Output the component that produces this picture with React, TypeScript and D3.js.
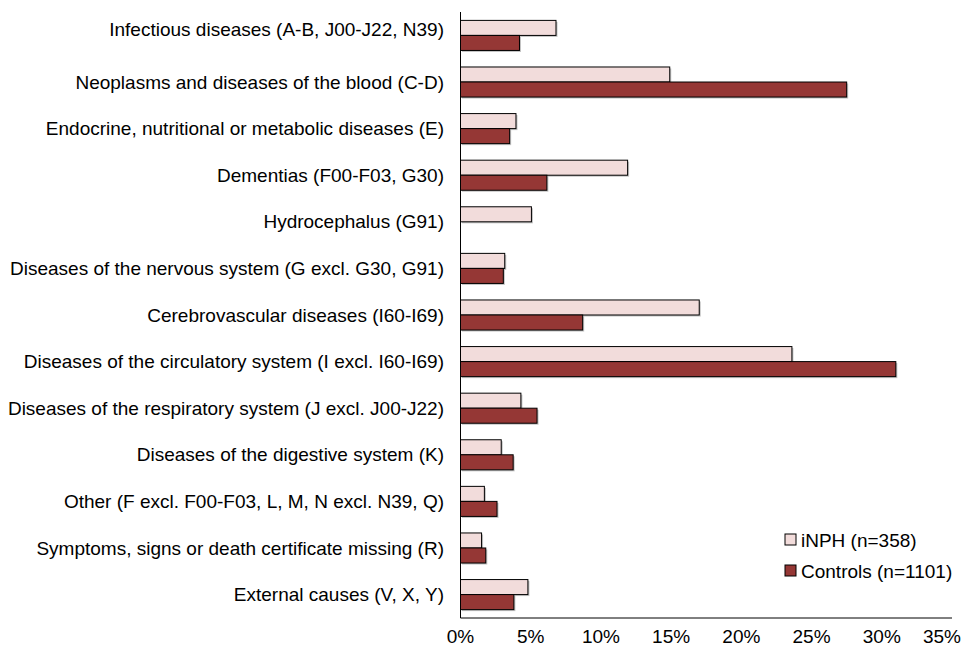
import React from "react";
import * as d3 from "d3";

const categories = [
  "Infectious diseases (A-B, J00-J22, N39)",
  "Neoplasms and diseases of the blood (C-D)",
  "Endocrine, nutritional or metabolic diseases (E)",
  "Dementias (F00-F03, G30)",
  "Hydrocephalus (G91)",
  "Diseases of the nervous system (G excl. G30, G91)",
  "Cerebrovascular diseases (I60-I69)",
  "Diseases of the circulatory system (I excl. I60-I69)",
  "Diseases of the respiratory system (J excl. J00-J22)",
  "Diseases of the digestive system (K)",
  "Other (F excl. F00-F03, L, M, N excl. N39, Q)",
  "Symptoms, signs or death certificate missing (R)",
  "External causes (V, X, Y)",
];
const inph = [6.8, 14.9, 3.95, 11.9, 5.05, 3.15, 17.0, 23.6, 4.3, 2.9, 1.7, 1.5, 4.8];
const controls = [4.2, 27.5, 3.5, 6.15, 0, 3.05, 8.7, 31.0, 5.45, 3.75, 2.6, 1.8, 3.8];
const series = ["iNPH (n=358)", "Controls (n=1101)"];
const xTicks = [0, 5, 10, 15, 20, 25, 30, 35];

const W = 971;
const H = 647;
const colors = ["#f2dcdb", "#953735"];
const font = "Liberation Sans, Arial, sans-serif";
const fs = 19;

export default function App() {
  const x = d3.scaleLinear().domain([0, 35]).range([460.5, 952]);
  const y = d3.scaleBand<string>().domain(categories).range([12, 618]).paddingInner(0.355).paddingOuter(0.18);
  const sub = d3.scaleBand<number>().domain([0, 1]).range([0, y.bandwidth()]);
  const data = [inph, controls];

  return (
    <svg width={W} height={H} style={{ position: "absolute", left: 0, top: 0, background: "#fff" }}>
      {categories.map((c, i) => (
        <g key={c}>
          {data.map((s, k) =>
            s[i] > 0 ? (
              <g key={k}>
                <rect
                  x={x(0) + 1.5}
                  y={(y(c) as number) + sub(k)! + 1.5}
                  width={x(s[i]) - x(0)}
                  height={sub.bandwidth()}
                  fill="#9a9a9a"
                  opacity={0.6}
                />
                <rect
                  x={x(0)}
                  y={(y(c) as number) + sub(k)!}
                  width={x(s[i]) - x(0)}
                  height={sub.bandwidth()}
                  fill={colors[k]}
                  stroke="#000"
                  strokeWidth={1}
                />
              </g>
            ) : null
          )}
          <text
            x={444}
            y={(y(c) as number) + y.bandwidth() / 2 - (i === 0 ? 6 : 0)}
            dy="0.35em"
            textAnchor="end"
            fontFamily={font}
            fontSize={fs}
            fill="#000"
          >
            {c}
          </text>
        </g>
      ))}
      <line x1={460.5} x2={460.5} y1={12} y2={618} stroke="#000" strokeWidth={1} />
      <line x1={460.5} x2={952} y1={618} y2={618} stroke="#000" strokeWidth={1} />
      {xTicks.map((t) => {
        const px = x(t);
        const anchor = t === 35 ? "end" : "middle";
        return (
          <text
            key={t}
            x={t === 35 ? 961 : px}
            y={642.5}
            textAnchor={anchor}
            fontFamily={font}
            fontSize={fs}
            fill="#000"
          >
            {t}%
          </text>
        );
      })}
      {series.map((s, k) => (
        <g key={s} transform={`translate(785, ${534 + k * 31})`}>
          <rect x={0} y={0} width={11} height={11} fill={colors[k]} stroke="#000" strokeWidth={1} />
          <text x={16} y={6} dy="0.35em" fontFamily={font} fontSize={fs} fill="#000">
            {s}
          </text>
        </g>
      ))}
    </svg>
  );
}
